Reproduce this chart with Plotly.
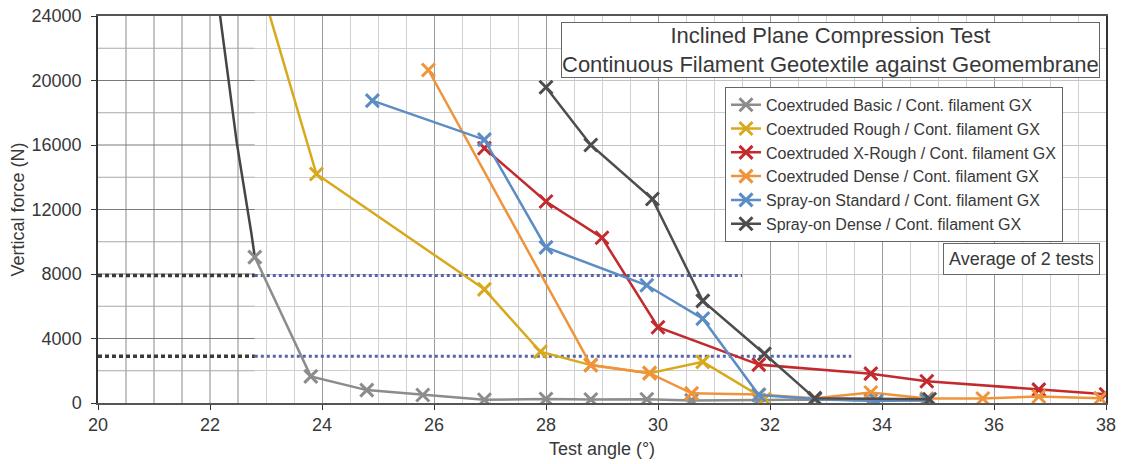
import plotly.graph_objects as go

# ---------------- data ----------------
series_names = [
    "Coextruded Basic / Cont. filament GX",
    "Coextruded Rough / Cont. filament GX",
    "Coextruded X-Rough / Cont. filament GX",
    "Coextruded Dense / Cont. filament GX",
    "Spray-on Standard / Cont. filament GX",
    "Spray-on Dense / Cont. filament GX",
]

basic_x = [22.8, 23.8, 24.8, 25.8, 26.9, 28.0, 28.8, 29.8, 30.6, 31.8, 32.8, 33.8, 34.8]
basic_y = [9050, 1650, 800, 500, 200, 250, 220, 230, 160, 180, 220, 150, 150]

# earlier part of the Basic curve (drawn dark in the left panel of the reference)
basic_prior_x = [22.15, 22.48, 22.74, 22.8]
basic_prior_y = [24800, 16100, 10500, 9050]

rough_x = [22.9, 23.9, 26.9, 27.9, 28.8, 29.85, 30.8, 31.9]
rough_y = [26000, 14200, 7050, 3180, 2350, 1850, 2550, 250]

xrough_x = [26.9, 28.0, 29.0, 30.0, 31.8, 33.8, 34.8, 36.8, 38.0]
xrough_y = [15800, 12500, 10250, 4700, 2380, 1820, 1350, 830, 540]

dense_x = [25.9, 28.8, 29.85, 30.6, 31.8, 32.8, 33.8, 34.8, 35.8, 36.8, 37.9]
dense_y = [20650, 2350, 1850, 600, 520, 300, 650, 280, 280, 400, 300]

spray_std_x = [24.9, 26.9, 28.0, 29.8, 30.8, 31.8, 32.8, 33.9, 34.8]
spray_std_y = [18750, 16330, 9650, 7300, 5230, 500, 250, 120, 180]

spray_dense_x = [28.0, 28.8, 29.9, 30.8, 31.9, 32.8, 34.85]
spray_dense_y = [19580, 16000, 12650, 6330, 3050, 290, 230]

# reference force levels (dotted lines)
ref_levels = [7900, 2900]
ref_left_x = [20.0, 22.8]
ref_right_end = [31.5, 33.45]

x_ticks = [20, 22, 24, 26, 28, 30, 32, 34, 36, 38]
y_ticks = [0, 4000, 8000, 12000, 16000, 20000, 24000]
y_tick_labels = ["0", "4000", "8000", "12000", "16000", "20000", "24000"]

title_text = "Inclined Plane Compression Test<br>Continuous Filament Geotextile against Geomembrane"
note_text = "Average of 2 tests"

# ---------------- styles ----------------
colors = ["#8c8c8c", "#d8a91c", "#c32a2e", "#f0943c", "#5b8cc4", "#4d4d4d"]
FONT = "Liberation Sans, Arial, sans-serif"
TXT = "#383838"

fig = go.Figure()

all_x = [basic_x, rough_x, xrough_x, dense_x, spray_std_x, spray_dense_x]
all_y = [basic_y, rough_y, xrough_y, dense_y, spray_std_y, spray_dense_y]

# left overlay panel (white background + darker grid)
shapes = [dict(type="rect", xref="x", yref="y", x0=20, x1=22.8, y0=0, y1=24000,
               fillcolor="white", line=dict(width=0), layer="between")]
gx = 20.5
while gx < 22.8:
    shapes.append(dict(type="line", xref="x", yref="y", x0=gx, x1=gx, y0=0, y1=24000,
                       line=dict(color="#8a8a8a", width=1), layer="between"))
    gx += 0.5
for gy in range(2000, 24000, 2000):
    shapes.append(dict(type="line", xref="x", yref="y", x0=20, x1=22.8, y0=gy, y1=gy,
                       line=dict(color="#7a7a7a" if gy % 4000 == 0 else "#a8a8a8", width=1),
                       layer="between"))

# dotted reference lines
for lvl, xend in zip(ref_levels, ref_right_end):
    fig.add_trace(go.Scatter(x=ref_left_x, y=[lvl, lvl], mode="lines",
                             line=dict(color="#3a3a3a", width=3.5, dash="4px,3px"),
                             showlegend=False, hoverinfo="skip"))
    fig.add_trace(go.Scatter(x=[ref_left_x[1], xend], y=[lvl, lvl], mode="lines",
                             line=dict(color="#5565ab", width=3, dash="3px,3px"),
                             showlegend=False, hoverinfo="skip"))

fig.add_trace(go.Scatter(x=basic_prior_x, y=basic_prior_y, mode="lines",
                         line=dict(color="#454545", width=2.5),
                         showlegend=False, hoverinfo="skip"))

for name, xs, ys, c in zip(series_names, all_x, all_y, colors):
    fig.add_trace(go.Scatter(
        x=xs, y=ys, name=name, mode="lines+markers",
        line=dict(color=c, width=2.5),
        marker=dict(symbol="x-thin-open", size=13, color=c, line=dict(color=c, width=3)),
    ))

fig.add_annotation(text=title_text, xref="paper", yref="paper", x=0.994, y=0.912,
                   xanchor="right", yanchor="middle", showarrow=False, align="center",
                   font=dict(family=FONT, size=22, color=TXT),
                   bordercolor="#666", borderwidth=1, borderpad=0, bgcolor="white")
fig.add_annotation(text=note_text, xref="paper", yref="paper", x=0.994, y=0.372,
                   xanchor="right", yanchor="middle", showarrow=False,
                   font=dict(family=FONT, size=18, color=TXT),
                   bordercolor="#666", borderwidth=1, borderpad=5, bgcolor="white")

fig.update_layout(
    width=1124, height=464,
    margin=dict(l=98, r=18, t=16, b=61, autoexpand=False),
    paper_bgcolor="white", plot_bgcolor="white",
    font=dict(family=FONT, color=TXT),
    shapes=shapes,
    legend=dict(x=0.622, y=0.817, xanchor="left", yanchor="top",
                bgcolor="white", bordercolor="#666", borderwidth=1,
                font=dict(family=FONT, size=16, color=TXT),
                itemwidth=30, tracegroupgap=0),
)

fig.update_xaxes(range=[20, 38], tickvals=x_ticks, ticks="outside", ticklen=5,
                 tickcolor="#333", tickfont=dict(size=18, color=TXT),
                 ticklabeloverflow="allow",
                 showgrid=True, gridcolor="#9a9a9a", gridwidth=1,
                 minor=dict(dtick=0.5, showgrid=True, gridcolor="#d2d2d2", gridwidth=1),
                 showline=True, linecolor="#555", linewidth=1.5, mirror=True,
                 zeroline=False, automargin=False,
                 title=dict(text="Test angle (°)", font=dict(size=18, color=TXT), standoff=8))
fig.update_yaxes(range=[0, 24000], tickvals=y_ticks, ticktext=y_tick_labels,
                 ticks="outside", ticklen=5,
                 tickcolor="#333", tickfont=dict(size=18, color=TXT),
                 ticklabeloverflow="allow",
                 showgrid=True, gridcolor="#c4c4c4", gridwidth=1,
                 minor=dict(dtick=2000, showgrid=True, gridcolor="#cfcfcf", gridwidth=1),
                 showline=True, linecolor="#333", linewidth=1.5, mirror=True,
                 zeroline=False, ticklabelstandoff=6, automargin=False,
                 title=dict(text="Vertical force (N)", font=dict(size=18, color=TXT), standoff=2))

# remove the page's default 8px body margin so the figure fills the window exactly
fig.write_html("out.html", config={"displayModeBar": False},
               post_script="document.body.style.margin='0';")
